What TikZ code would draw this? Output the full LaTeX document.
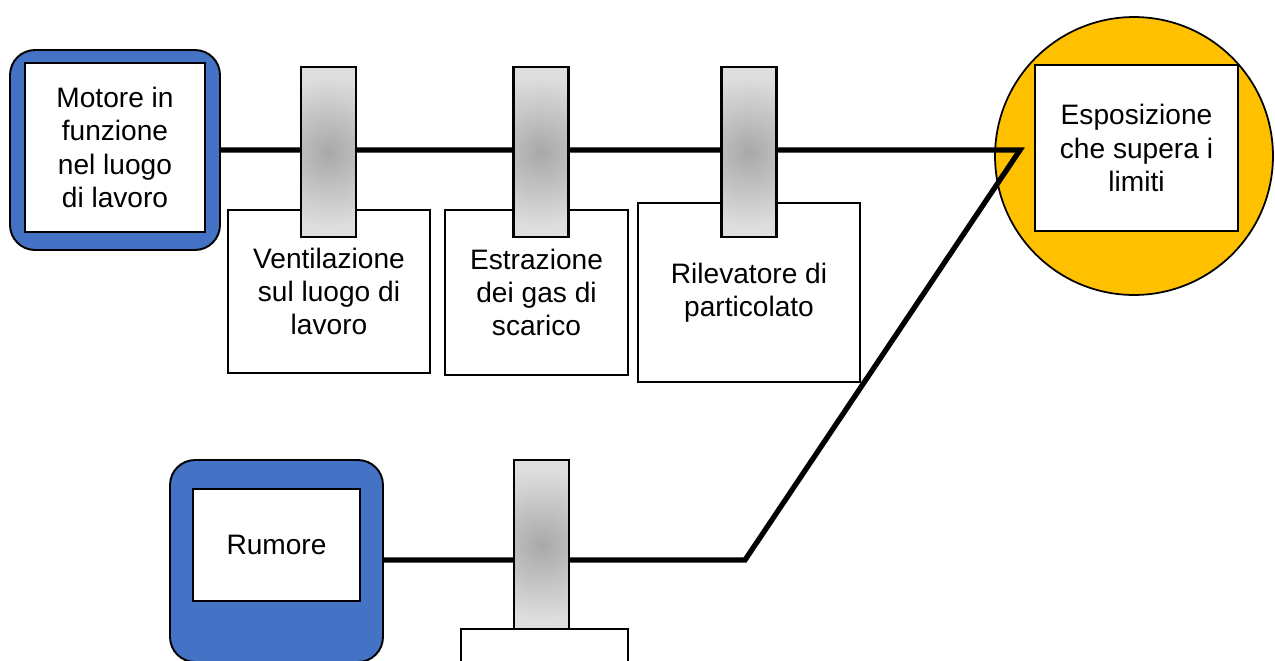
\documentclass[tikz,border=0pt]{standalone}
\usepackage{fontspec}
\setmainfont{Liberation Sans}
\definecolor{blueC}{HTML}{4472C4}
\definecolor{goldC}{HTML}{FFC000}
\pgfdeclareradialshading{barshade}{\pgfpointorigin}{%
    color(0bp)=(black!34); color(21bp)=(black!13); color(50bp)=(black!12)}

\begin{document}
\begin{tikzpicture}[x=0.02cm, y=-0.02cm,
        outer box/.style={draw, fill=blueC, line width=1.1pt, rounded corners=0.5cm},
        inner box/.style={draw, fill=white, line width=1.1pt, align=center,
            font=\fontsize{16}{19}\selectfont},
        tag box/.style={draw, fill=white, line width=0.8pt, align=center,
            font=\fontsize{16}{19}\selectfont},
        barrier/.style={draw, line width=1.4pt, minimum width=1.1cm, minimum height=3.4cm,
            path picture={\shade[shading=barshade] (path picture bounding box.center)
                circle [radius=1.8cm];}},
        link/.style={line width=3pt, line join=miter}]

    \useasboundingbox (0,0) rectangle (1275,660);
    \clip (0,0) rectangle (1275,660);

    % Sorgenti ed esito
    \node[outer box, minimum width=4.2cm, minimum height=4cm] (motore) at (115,150) {};
    \node[outer box, minimum width=4.26cm, minimum height=4.04cm] (rumore) at (276.5,561) {};
    \node[draw, circle, fill=goldC, line width=1pt, minimum size=5.56cm] (esito) at (1134,156) {};

    % Collegamenti
    \coordinate (giunto) at (1020,150);
    \coordinate (piega) at (745,560);
    \draw[link] (motore.east) -- (giunto) -- (piega) -- (rumore.east |- piega);

    % Riquadri interni
    \node[inner box, minimum width=3.6cm, minimum height=3.38cm] (m) at (115,147.5)
        {Motore in\\funzione\\nel luogo\\di lavoro};
    \node[inner box, minimum width=3.34cm, minimum height=2.24cm] (r) at (276.5,545) {Rumore};
    \node[inner box, minimum width=4.06cm, minimum height=3.32cm] (e) at (1136.5,148)
        {Esposizione\\che supera i\\limiti};

    % Etichette delle barriere
    \node[tag box, minimum width=4.04cm, minimum height=3.26cm] (t1) at (329,291.5)
        {Ventilazione\\sul luogo di\\lavoro};
    \node[tag box, minimum width=3.66cm, minimum height=3.3cm] (t2) at (536.5,292.5)
        {Estrazione\\dei gas di\\scarico};
    \node[tag box, minimum width=4.44cm, minimum height=3.58cm] (t3) at (749,292.5)
        {Rilevatore di\\particolato};
    \node[tag box, minimum width=3.34cm, minimum height=1.42cm] (t4) at (544.5,664.5) {};

    % Barriere
    \node[barrier] (b1) at (328.5,152) {};
    \node[barrier] (b2) at (541,152) {};
    \node[barrier] (b3) at (749,152) {};
    \node[barrier, minimum height=3.38cm] (b4) at (541.5,544.5) {};
\end{tikzpicture}
\end{document}
